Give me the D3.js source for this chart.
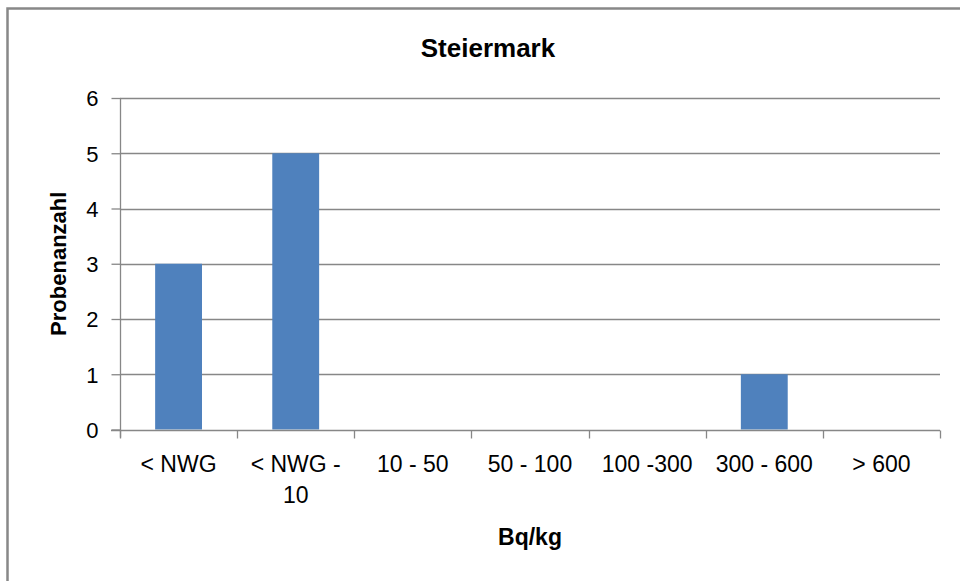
<!DOCTYPE html>
<html>
<head>
<meta charset="utf-8">
<script src="https://cdn.jsdelivr.net/npm/d3@7"></script>
<style>
  html, body { margin: 0; padding: 0; background: #fff; }
  svg { display: block; }
  text { font-family: "Liberation Sans", Arial, sans-serif; fill: #000; }
</style>
</head>
<body>
<svg id="chart" width="960" height="581"></svg>
<script>
const categories = ["< NWG", "< NWG - 10", "10 - 50", "50 - 100", "100 -300", "300 - 600", "> 600"];
const values = [3, 5, 0, 0, 0, 1, 0];
const yTicks = [0, 1, 2, 3, 4, 5, 6];
const chartTitle = "Steiermark";
const xTitle = "Bq/kg";
const yTitle = "Probenanzahl";

const svg = d3.select("#chart");
const W = 960, H = 581;
const plot = { left: 120, right: 940, top: 98, bottom: 429.5 };
const gridColor = "#878787";
const barColor = "#4F81BD";

// outer chart border (left and top visible)
svg.append("rect")
  .attr("x", 7.5).attr("y", 8.5)
  .attr("width", W + 20).attr("height", H + 20)
  .attr("fill", "none").attr("stroke", "#888").attr("stroke-width", 2.5);

const x = d3.scaleBand().domain(categories).range([plot.left, plot.right]).paddingInner(0).paddingOuter(0);
const y = d3.scaleLinear().domain([0, 6]).range([plot.bottom, plot.top]);

// gridlines
svg.append("g").selectAll("line").data(yTicks.filter(d => d > 0)).join("line")
  .attr("x1", plot.left).attr("x2", plot.right)
  .attr("y1", d => Math.round(y(d)) + 0.5).attr("y2", d => Math.round(y(d)) + 0.5)
  .attr("stroke", gridColor).attr("stroke-width", 1.3);

// bars
const barW = x.bandwidth() * 0.4;
svg.append("g").selectAll("rect").data(categories.map((c, i) => ({ c, v: values[i] })).filter(d => d.v > 0)).join("rect")
  .attr("x", d => x(d.c) + (x.bandwidth() - barW) / 2)
  .attr("y", d => y(d.v))
  .attr("width", barW)
  .attr("height", d => y(0) - y(d.v))
  .attr("fill", barColor);

// y axis
const yAxis = d3.axisLeft(y).tickValues(yTicks).tickSize(9).tickPadding(13).tickFormat(d3.format("d"));
const gy = svg.append("g").attr("transform", `translate(${plot.left + 0.5},0)`).call(yAxis);
gy.select(".domain").attr("stroke", gridColor).attr("stroke-width", 1.3)
  .attr("d", `M0,${plot.top}V${plot.bottom + 8}`);
gy.selectAll(".tick line").attr("stroke", gridColor).attr("stroke-width", 1.3);
gy.selectAll(".tick text").attr("font-size", 22).attr("fill", "#000")
  .attr("font-family", "Liberation Sans, Arial, sans-serif").attr("dy", "0.36em");

// x axis
const xAxis = d3.axisBottom(x).tickSize(0).tickFormat("");
const gx = svg.append("g").attr("transform", `translate(0,${Math.round(plot.bottom) + 0.5})`).call(xAxis);
gx.select(".domain").attr("stroke", gridColor).attr("stroke-width", 1.3)
  .attr("d", `M${plot.left - 9},0H${plot.right}`);
const boundaries = categories.map(c => x(c)).concat([plot.right]);
gx.append("g").selectAll("line").data(boundaries).join("line")
  .attr("x1", d => Math.round(d) + 0.5).attr("x2", d => Math.round(d) + 0.5)
  .attr("y1", 0).attr("y2", 8)
  .attr("stroke", gridColor).attr("stroke-width", 1.3);

// x labels with wrapping
const labelSize = 23;
const maxW = 104;
const measure = svg.append("text").attr("font-size", labelSize).attr("visibility", "hidden");
function wrapWords(str) {
  const words = str.split(" ");
  const lines = [];
  let cur = "";
  words.forEach(w => {
    const test = cur ? cur + " " + w : w;
    measure.text(test);
    if (measure.node().getComputedTextLength() > maxW && cur) {
      lines.push(cur);
      cur = w;
    } else cur = test;
  });
  if (cur) lines.push(cur);
  return lines;
}
categories.forEach(c => {
  const lines = wrapWords(c);
  const t = svg.append("text")
    .attr("text-anchor", "middle")
    .attr("font-size", labelSize)
    .attr("x", x(c) + x.bandwidth() / 2)
    .attr("y", 472);
  lines.forEach((ln, i) => {
    t.append("tspan").attr("x", x(c) + x.bandwidth() / 2).attr("y", 472 + i * 31).text(ln);
  });
});
measure.remove();

// titles
svg.append("text").attr("x", 488).attr("y", 57).attr("text-anchor", "middle")
  .attr("font-size", 26).attr("font-weight", "bold").text(chartTitle);
svg.append("text").attr("x", (plot.left + plot.right) / 2).attr("y", 545).attr("text-anchor", "middle")
  .attr("font-size", 23).attr("font-weight", "bold").text(xTitle);
svg.append("text").attr("transform", `translate(66,${(plot.top + plot.bottom) / 2}) rotate(-90)`)
  .attr("text-anchor", "middle")
  .attr("font-size", 22).attr("font-weight", "bold").text(yTitle);
</script>
</body>
</html>
